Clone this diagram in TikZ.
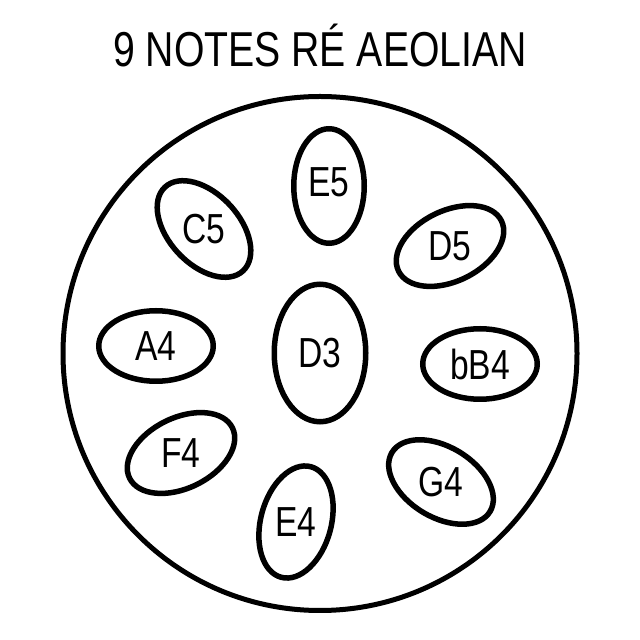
\documentclass[tikz,border=0pt]{standalone}
\usepackage{fontspec}
\setmainfont{Liberation Sans}[FakeStretch=0.8]
\usetikzlibrary{calc,
shapes.geometric}

\begin{document}
\begin{tikzpicture} [x=1pt,
    y=1pt,
    line width = 5.5pt,
    pan/.style={circle, draw, inner sep=0pt, minimum size = 514pt},
    note/.style={ellipse, draw, inner sep=0pt,
        minimum width = 114.5pt, minimum height = 70.5pt},
    note label/.style={inner sep=0pt, font=\fontsize{42}{42}\selectfont}
  ]
  \useasboundingbox (0,0) rectangle (640,640);

  \node [anchor=base,
    font=\fontsize{49}{49}\selectfont
  ] (title) at (320, 573) {9 NOTES RÉ AEOLIAN};

  \node [pan, line width = 5pt] (pan) at (320, 286.5) {};

  %%%%%%%%%%%%%%%%%%%%%%%%%%%%%%

  \node [note,
    minimum width = 137.5pt,
    minimum height = 91.5pt,
    rotate = 90
  ] (d3) at (320, 287) {};

  \node [note, rotate = 90] (e5) at (329, 454) {};
  \node [note, rotate = -47] (c5) at (204, 411) {};
  \node [note, rotate = 26] (d5) at (450, 394) {};
  \node [note] (a4) at (156, 294) {};
  \node [note] (bb4) at (480, 276) {};
  \node [note, rotate = 26] (f4) at (181, 187) {};
  \node [note, rotate = -31] (g4) at (441, 158) {};
  \node [note, rotate = 75] (e4) at (296, 118) {};

  %%%%%%%%%%%%%%%%%%%%%%%%%%%%%%

  \node [note label] at (d3) {D3};
  \node [note label] at ($(e5) + (0, 4)$) {E5};
  \node [note label] at (c5) {C5};
  \node [note label] at (d5) {D5};
  \node [note label] at (a4) {A4};
  \node [note label] at (bb4) {bB4};
  \node [note label] at (f4) {F4};
  \node [note label] at (g4) {G4};
  \node [note label] at (e4) {E4};

\end{tikzpicture}
\end{document}
